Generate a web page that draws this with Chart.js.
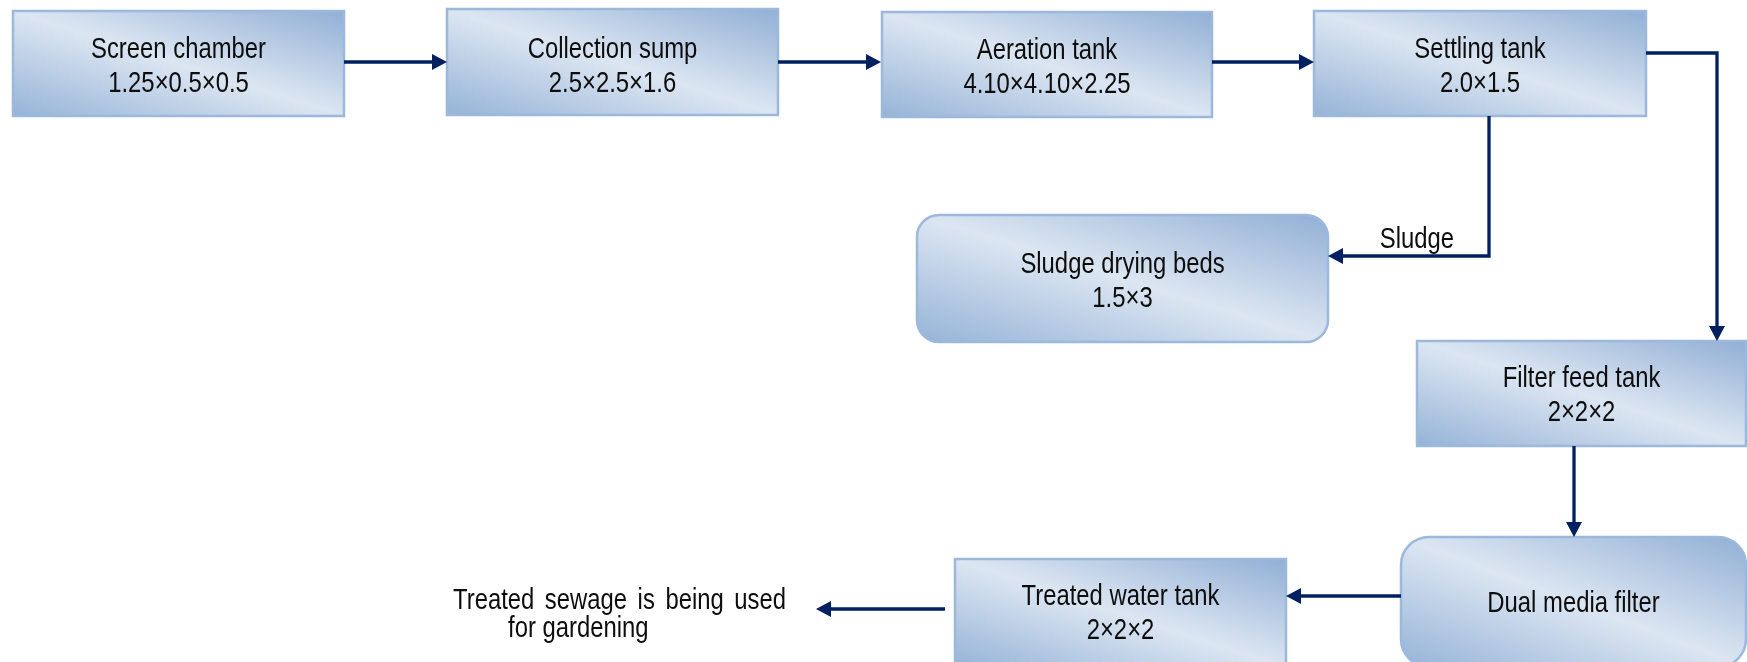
<!DOCTYPE html>
<html><head><meta charset="utf-8">
<script src="https://cdn.jsdelivr.net/npm/chart.js@4.4.1/dist/chart.umd.min.js"></script>
<style>html,body{margin:0;padding:0;background:#fff;overflow:hidden}canvas{display:block}</style>
</head><body>
<canvas id="c" width="1747" height="662"></canvas>
<script>
// ---- content ----
const stageNames = ['Screen chamber','Collection sump','Aeration tank','Settling tank','Sludge drying beds','Filter feed tank','Dual media filter','Treated water tank'];
const stageSizes = ['1.25×0.5×0.5','2.5×2.5×1.6','4.10×4.10×2.25','2.0×1.5','1.5×3','2×2×2','','2×2×2'];
const flowFrom = [0,1,2,3,3,5,6,7];
const flowTo   = [1,2,3,5,4,6,7,-1];
const flowLabels = ['','','','','Sludge','','',''];
const outletText = ['Treated sewage is being used','for gardening'];

// ---- layout (diagram coordinates) ----
const boxRect = [[13,11,344,116],[447,9,778,115],[882,12,1212,117],[1314,11,1646,116],[917,215,1328,342],[1417,341,1746,446],[1401,537,1746,667],[955,559,1286,668]];
const boxRound = [0,0,0,0,22,0,28,0];
const boxBaseline = [58,58,59,58,273,387,612,605];
const flowPaths = [
  [[344,62],[447,62]],
  [[778,62],[881,62]],
  [[1212,62],[1314,62]],
  [[1646,53],[1717,53],[1717,341]],
  [[1489,116],[1489,256],[1328,256]],
  [[1574,446],[1574,537]],
  [[1401,596],[1286,596]],
  [[945,609],[816,609]]
];
const flowLabelPos = [null,null,null,null,[1417,248],null,null,null];
const outletPos = [[453,609,333],[508,637,0]];

const FONT = '30px "Liberation Sans", Arial, sans-serif';
const NARROW = 0.795;
const NAVY = '#002060';

function narrowText(ctx, text, x, y, align){
  ctx.save();
  ctx.translate(x, y);
  ctx.scale(NARROW, 1);
  ctx.textAlign = align || 'center';
  ctx.fillText(text, 0, 0);
  ctx.restore();
}
function rrect(ctx, x0, y0, x1, y1, r){
  ctx.beginPath();
  if (r > 0 && ctx.roundRect) { ctx.roundRect(x0, y0, x1-x0, y1-y0, r); }
  else { ctx.rect(x0, y0, x1-x0, y1-y0); }
}

const flowPlugin = {
  id: 'flow',
  afterDraw(chart){
    const ctx = chart.ctx;
    const X = v => chart.scales.x.getPixelForValue(v);
    const Y = v => chart.scales.y.getPixelForValue(v);
    ctx.save();
    // boxes
    boxRect.forEach((b, i) => {
      const x0 = X(b[0]), x1 = X(b[2]), y0 = Y(b[1]), y1 = Y(b[3]);
      const w = x1-x0, h = y1-y0, cx = (x0+x1)/2, cy = (y0+y1)/2;
      const L = Math.sqrt(w*w+h*h), d = w*h/L;
      const nx = -h/L, ny = w/L;
      const g = ctx.createLinearGradient(cx+nx*d, cy+ny*d, cx-nx*d, cy-ny*d);
      g.addColorStop(0, '#95b3d7');
      g.addColorStop(0.5, '#dce6f2');
      g.addColorStop(1, '#91afd5');
      rrect(ctx, x0, y0, x1, y1, boxRound[i]);
      ctx.fillStyle = g;
      ctx.fill();
      ctx.lineWidth = 2.5;
      ctx.strokeStyle = '#9cb8dc';
      ctx.stroke();
      ctx.fillStyle = '#0d0d0d';
      ctx.font = FONT;
      ctx.textBaseline = 'alphabetic';
      const by = Y(boxBaseline[i]);
      narrowText(ctx, stageNames[i], cx, by);
      if (stageSizes[i]) narrowText(ctx, stageSizes[i], cx, by + 34);
    });
    // flows
    ctx.strokeStyle = NAVY; ctx.fillStyle = NAVY; ctx.lineWidth = 3.3;
    ctx.lineJoin = 'miter'; ctx.lineCap = 'butt';
    flowPaths.forEach((p, i) => {
      const pts = p.map(q => [X(q[0]), Y(q[1])]);
      const n = pts.length;
      const tip = pts[n-1], prev = pts[n-2];
      const dx = tip[0]-prev[0], dy = tip[1]-prev[1];
      const len = Math.sqrt(dx*dx+dy*dy), ux = dx/len, uy = dy/len;
      const hl = 15, hw = 8;
      const base = [tip[0]-ux*hl, tip[1]-uy*hl];
      ctx.beginPath();
      ctx.moveTo(pts[0][0], pts[0][1]);
      for (let k = 1; k < n-1; k++) ctx.lineTo(pts[k][0], pts[k][1]);
      ctx.lineTo(base[0]+ux*1, base[1]+uy*1);
      ctx.stroke();
      ctx.beginPath();
      ctx.moveTo(tip[0], tip[1]);
      ctx.lineTo(base[0]-uy*hw, base[1]+ux*hw);
      ctx.lineTo(base[0]+uy*hw, base[1]-ux*hw);
      ctx.closePath();
      ctx.fill();
      if (flowLabels[i] && flowLabelPos[i]) {
        ctx.fillStyle = '#0d0d0d'; ctx.font = FONT;
        narrowText(ctx, flowLabels[i], X(flowLabelPos[i][0]), Y(flowLabelPos[i][1]));
        ctx.fillStyle = NAVY;
      }
    });
    // outlet text
    ctx.fillStyle = '#0d0d0d'; ctx.font = FONT; ctx.textBaseline = 'alphabetic';
    outletText.forEach((t, i) => {
      const [ox, oy, jw] = outletPos[i];
      const x = X(ox), y = Y(oy);
      if (jw > 0) {
        const words = t.split(' ');
        const ww = words.map(w => ctx.measureText(w).width * NARROW);
        const total = ww.reduce((a,b)=>a+b,0);
        const gap = (jw - total) / (words.length - 1);
        let cx = x;
        words.forEach((w, k) => { narrowText(ctx, w, cx, y, 'left'); cx += ww[k] + gap; });
      } else {
        narrowText(ctx, t, x, y, 'left');
      }
    });
    ctx.restore();
  }
};

new Chart(document.getElementById('c'), {
  type: 'scatter',
  data: { datasets: [{ label: 'stages', data: boxRect.map(b => ({x:(b[0]+b[2])/2, y:(b[1]+b[3])/2})), pointRadius: 0, showLine: false }] },
  options: {
    responsive: false, animation: false, devicePixelRatio: 1,
    layout: { padding: 0 },
    plugins: { legend: { display: false }, tooltip: { enabled: false } },
    scales: {
      x: { type: 'linear', min: 0, max: 1747, display: false },
      y: { type: 'linear', min: 0, max: 662, reverse: true, display: false }
    }
  },
  plugins: [flowPlugin]
});
</script>
</body></html>
